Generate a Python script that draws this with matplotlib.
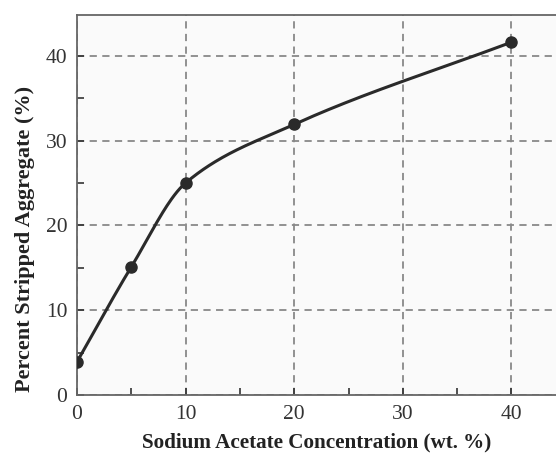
import numpy as np
import matplotlib.pyplot as plt

# Data
conc = [0, 5, 10, 20, 40]
stripped = [3.9, 15.1, 25.0, 31.9, 41.6]


def pchip(x, y, xs):
    # monotone cubic curve through the measured points
    x = np.asarray(x, float)
    y = np.asarray(y, float)
    h = np.diff(x)
    d = np.diff(y) / h
    m = np.zeros_like(y)
    for k in range(1, len(x) - 1):
        if d[k - 1] * d[k] > 0:
            w1 = 2 * h[k] + h[k - 1]
            w2 = h[k] + 2 * h[k - 1]
            m[k] = (w1 + w2) / (w1 / d[k - 1] + w2 / d[k])
    m[0] = d[0]
    m[-1] = d[-1]
    out = np.empty_like(xs)
    for i, xv in enumerate(xs):
        k = min(np.searchsorted(x, xv, side='right') - 1, len(x) - 2)
        t = (xv - x[k]) / h[k]
        h00 = 2 * t**3 - 3 * t**2 + 1
        h10 = t**3 - 2 * t**2 + t
        h01 = -2 * t**3 + 3 * t**2
        h11 = t**3 - t**2
        out[i] = h00 * y[k] + h10 * h[k] * m[k] + h01 * y[k + 1] + h11 * h[k] * m[k + 1]
    return out


plt.rcParams['font.family'] = ['Liberation Serif', 'DejaVu Serif']

fig = plt.figure(figsize=(5.56, 4.55), dpi=100)
ax = fig.add_axes([0.1385, 0.132, 0.8615, 0.835])
ax.set_facecolor('#fafafa')

xs = np.linspace(conc[0], conc[-1], 300)
ax.plot(xs, pchip(conc, stripped, xs), color='#2a2a2a', lw=2.2, zorder=3)
ax.plot(conc, stripped, 'o', color='#2a2a2a', ms=8, zorder=4)

ax.set_xlim(0, 44.1)
ax.set_ylim(0, 44.8)
ax.set_xticks([0, 10, 20, 30, 40])
ax.set_yticks([0, 10, 20, 30, 40])
ax.set_xticks([5, 15, 25, 35], minor=True)
ax.set_yticks([5, 15, 25, 35], minor=True)
ax.tick_params(which='both', direction='in', labelsize=15.5, colors='#333333',
               length=5, width=1.2, pad=7)

ax.grid(True, which='major', color='#888888', linestyle=(0, (4, 3)), lw=1.3)
for s in ['left', 'bottom', 'top']:
    ax.spines[s].set_color('#666666')
    ax.spines[s].set_linewidth(1.3)
ax.spines['right'].set_visible(False)

ax.set_xlabel('Sodium Acetate Concentration (wt. %)', fontsize=15.2,
              fontweight='bold', color='#222222', labelpad=6)
ax.set_ylabel('Percent Stripped Aggregate (%)', fontsize=16,
              fontweight='bold', color='#222222', labelpad=8)
ax.yaxis.set_label_coords(-0.087, 0.41)

plt.savefig('out.png', dpi=100)
